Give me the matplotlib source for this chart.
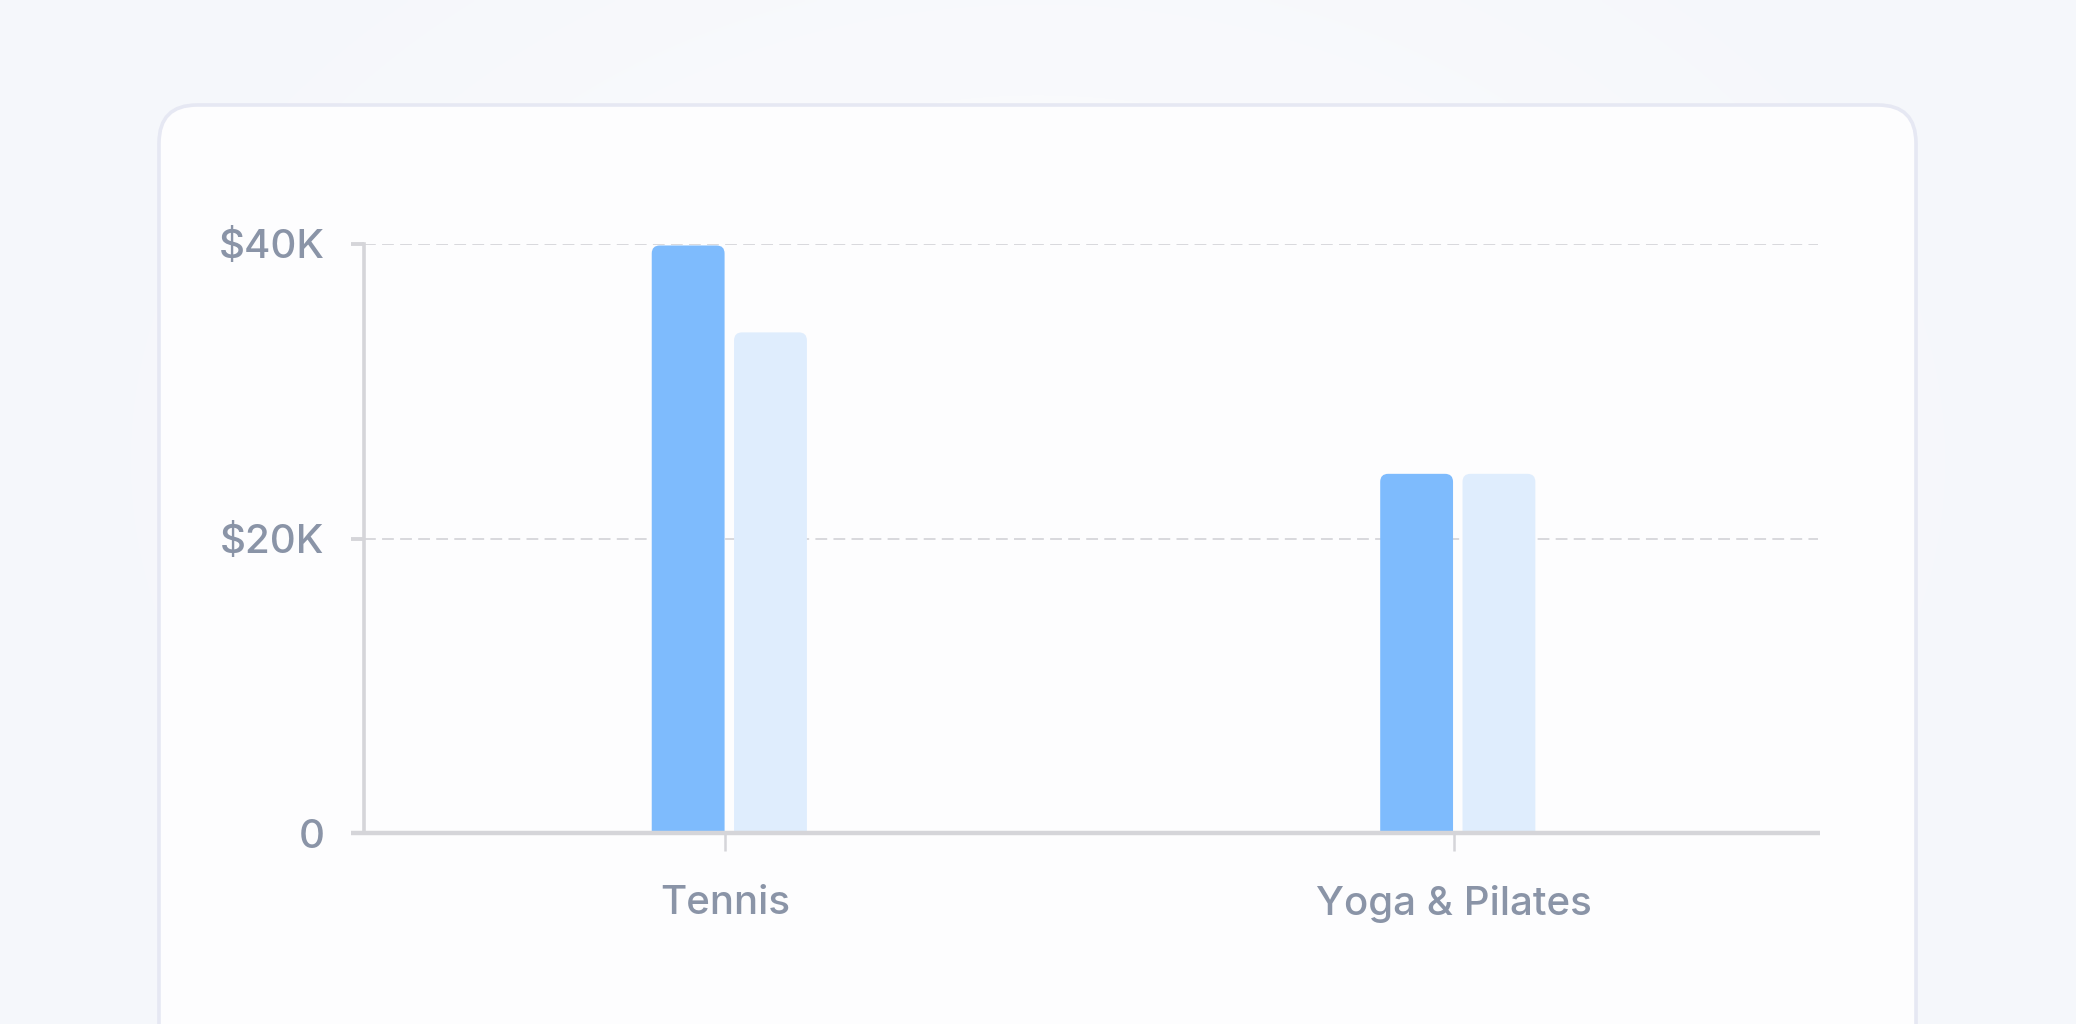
import matplotlib
matplotlib.use("Agg")
import numpy as np
import matplotlib.pyplot as plt
from matplotlib.colors import LinearSegmentedColormap
from matplotlib.patches import FancyBboxPatch
from matplotlib.transforms import IdentityTransform
from matplotlib.ticker import FuncFormatter

categories = ["Tennis", "Yoga & Pilates"]
series_main = [39900, 24400]
series_prev = [34000, 24400]
y_ticks = [0, 20000, 40000]

W, H, DPI = 2076, 1024, 100
label_color = "#8a94a7"
axis_color = "#d5d5d9"

plt.rcParams["font.family"] = ["Inter", "DejaVu Sans"]
plt.rcParams["lines.scale_dashes"] = False

fig = plt.figure(figsize=(W / DPI, H / DPI), dpi=DPI)
fig.patch.set_facecolor("#f8f9fc")

# soft radial background + card, both on a full-figure axes
bg = fig.add_axes([0, 0, 1, 1], zorder=-10)
gy, gx = np.mgrid[0:1:300j, 0:1:600j]
dist = np.sqrt(((gx - 0.5) * 2.0) ** 2 + ((gy - 0.45) * 1.4) ** 2)
bg.imshow(np.clip(dist, 0, 1), cmap=LinearSegmentedColormap.from_list("bg", ["#fdfdfe", "#f5f7fb"]),
          aspect="auto", extent=[0, 1, 0, 1], interpolation="bilinear")
bg.set_xlim(0, 1)
bg.set_ylim(0, 1)
bg.axis("off")
card = FancyBboxPatch((159, -80), 1916 - 159, (H - 105) + 80,
                      boxstyle="round,pad=0,rounding_size=38",
                      transform=IdentityTransform(), facecolor="#fdfdfe",
                      edgecolor="#e6e8f3", linewidth=2.6, zorder=5, clip_on=False)
bg.add_patch(card)

ax_l, ax_r, ax_top, ax_bot = 364, 1818, 244, 833.3
ax = fig.add_axes([ax_l / W, (H - ax_bot) / H, (ax_r - ax_l) / W, (ax_bot - ax_top) / H])
ax.set_facecolor("none")
ax.set_zorder(1)

x = list(range(len(categories)))
bw = 0.1
bars_a = ax.bar([i - 0.051 for i in x], series_main, width=bw, color="#7ebbfd", zorder=2)
bars_b = ax.bar([i + 0.062 for i in x], series_prev, width=bw, color="#dfedfd", zorder=2)

ax.set_xlim(-0.496, 1.5)
ax.set_ylim(0, 40000)

# round the top corners of each bar
px_x = (ax_r - ax_l) / 1.996
px_y = (ax_bot - ax_top) / 40000
r_px = 8
for bars in (bars_a, bars_b):
    for b in bars:
        bx, bwid, bh = b.get_x(), b.get_width(), b.get_height()
        ext = r_px / px_y
        p = FancyBboxPatch((bx, -ext), bwid, bh + ext,
                           boxstyle=f"round,pad=0,rounding_size={r_px / px_x}",
                           mutation_aspect=px_x / px_y,
                           facecolor=b.get_facecolor(), edgecolor="none", zorder=2)
        ax.add_patch(p)
        b.remove()

for yv in y_ticks[1:]:
    ax.axhline(yv, color="#d9d9dd", linewidth=1.4, dashes=(8.5, 4.5), zorder=1)

for s in ("top", "right", "bottom"):
    ax.spines[s].set_visible(False)
ax.spines["left"].set_color(axis_color)
ax.spines["left"].set_linewidth(2.6)
# baseline runs a little past the y axis, like the reference
ax.axhline(0, xmin=-13 / (ax_r - ax_l), xmax=1 + 2 / (ax_r - ax_l), color=axis_color,
           linewidth=3.2, solid_capstyle="butt", clip_on=False, zorder=3)

ax.set_yticks(y_ticks)
ax.yaxis.set_major_formatter(FuncFormatter(lambda v, p: "0" if v == 0 else f"${int(v / 1000)}K"))
ax.set_xticks(x)
ax.set_xticklabels(categories)

ax.tick_params(axis="y", length=9.4, width=2.8, color=axis_color, pad=19,
               labelsize=29, labelcolor=label_color)
ax.tick_params(axis="x", length=13, width=1.8, color=axis_color, pad=24,
               labelsize=29, labelcolor=label_color)
for lbl in ax.get_xticklabels() + ax.get_yticklabels():
    lbl.set_fontweight("medium")

fig.savefig("out.png", dpi=DPI, facecolor=fig.get_facecolor())
